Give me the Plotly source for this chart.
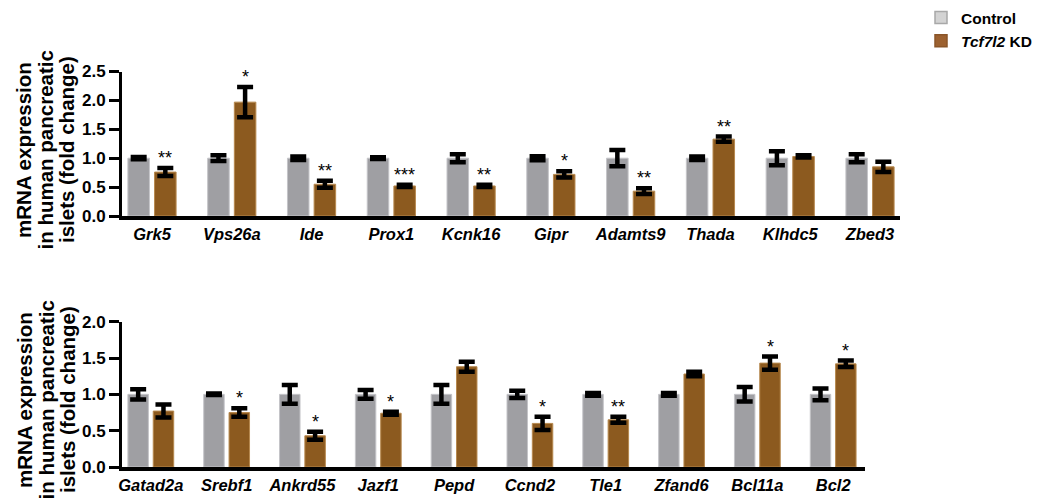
import plotly.graph_objects as go

# ---------------- data ----------------
genes_top = ["Grk5", "Vps26a", "Ide", "Prox1", "Kcnk16", "Gipr", "Adamts9", "Thada", "Klhdc5", "Zbed3"]
ctrl_top = [1.0, 1.0, 1.0, 1.0, 1.0, 1.0, 1.0, 1.0, 1.0, 1.0]
ctrl_top_err = [0.02, 0.05, 0.03, 0.015, 0.07, 0.035, 0.14, 0.03, 0.12, 0.07]
kd_top = [0.76, 1.97, 0.55, 0.52, 0.52, 0.72, 0.43, 1.33, 1.03, 0.85]
kd_top_err = [0.07, 0.26, 0.06, 0.02, 0.02, 0.055, 0.05, 0.045, 0.02, 0.09]
sig_top = ["**", "*", "**", "***", "**", "*", "**", "**", "", ""]

genes_bot = ["Gatad2a", "Srebf1", "Ankrd55", "Jazf1", "Pepd", "Ccnd2", "Tle1", "Zfand6", "Bcl11a", "Bcl2"]
ctrl_bot = [1.0, 1.0, 1.0, 1.0, 1.0, 1.0, 1.0, 1.0, 1.0, 1.0]
ctrl_bot_err = [0.07, 0.01, 0.13, 0.06, 0.13, 0.05, 0.02, 0.02, 0.10, 0.08]
kd_bot = [0.77, 0.75, 0.43, 0.74, 1.38, 0.60, 0.65, 1.28, 1.43, 1.42]
kd_bot_err = [0.09, 0.06, 0.055, 0.02, 0.07, 0.09, 0.04, 0.03, 0.09, 0.045]
sig_bot = ["", "*", "*", "*", "", "*", "**", "", "*", "*"]

ytick_top = [0.0, 0.5, 1.0, 1.5, 2.0, 2.5]
ytick_bot = [0.0, 0.5, 1.0, 1.5, 2.0]
title_lines = ["mRNA expression", "in human pancreatic", "islets (fold change)"]
legend_names = ["Control", "<i>Tcf7l2</i> KD"]

# ---------------- style ----------------
W, H = 1051, 501
OFF = 8  # page body margin
def px(x):
    return (x - OFF) / W
def py(y):
    return 1 - (y - OFF) / H

CTRL = "#9f9fa3"
CTRL_EDGE = "#c4c4c8"
KD = "#8c5a1f"
KD_EDGE = "#b7894f"
FONT = "Liberation Sans, Arial, sans-serif"
KD_OFFSET = 0.167
BAR_W = 0.27

fig = go.Figure()

def add_panel(genes, ctrl, ctrl_err, kd, kd_err, xa, ya):
    xs = list(range(len(genes)))
    eb = dict(type="data", color="black", thickness=4.5, width=8)
    fig.add_trace(go.Bar(x=xs, y=ctrl, error_y=dict(array=ctrl_err, **eb),
                         width=BAR_W, offset=-KD_OFFSET - BAR_W / 2,
                         marker=dict(color=CTRL, line=dict(color=CTRL_EDGE, width=1)),
                         xaxis=xa, yaxis=ya, showlegend=False, name="Control"))
    fig.add_trace(go.Bar(x=xs, y=kd, error_y=dict(array=kd_err, **eb),
                         width=BAR_W, offset=KD_OFFSET - BAR_W / 2,
                         marker=dict(color=KD, line=dict(color=KD_EDGE, width=1)),
                         xaxis=xa, yaxis=ya, showlegend=False, name="Tcf7l2 KD"))

add_panel(genes_top, ctrl_top, ctrl_top_err, kd_top, kd_top_err, "x", "y")
add_panel(genes_bot, ctrl_bot, ctrl_bot_err, kd_bot, kd_bot_err, "x2", "y2")

# legend-only entries
fig.add_trace(go.Bar(x=[None], y=[None], name=legend_names[0],
                     marker=dict(color="#d3d3d3", line=dict(color="#a8a8a8", width=1.5)),
                     xaxis="x", yaxis="y"))
fig.add_trace(go.Bar(x=[None], y=[None], name=legend_names[1],
                     marker=dict(color="#9c6130", line=dict(color="#8a5528", width=1.5)),
                     xaxis="x", yaxis="y"))

# significance stars
ann = []
for sigs, kd, err, xr, yr in [(sig_top, kd_top, kd_top_err, "x", "y"),
                              (sig_bot, kd_bot, kd_bot_err, "x2", "y2")]:
    for i, s in enumerate(sigs):
        if s:
            ann.append(dict(x=i + KD_OFFSET, y=kd[i] + err[i], xref=xr, yref=yr,
                            text=s, showarrow=False, yanchor="bottom", xanchor="center",
                            yshift=-2, font=dict(family=FONT, size=18, color="black")))

# y-axis titles (three rotated lines each)
for yc in [150, 400]:
    for line, xc in zip(title_lines, [24, 45.5, 67]):
        ann.append(dict(x=px(xc), y=py(yc), xref="paper", yref="paper", text=line,
                        textangle=-90, showarrow=False, xanchor="center", yanchor="middle",
                        font=dict(family=FONT, size=20.5, color="black", weight="bold")))

xax_common = dict(showline=True, linewidth=4, linecolor="black", ticks="",
                  showgrid=False, zeroline=False, tickmode="array", automargin=False,
                  tickfont=dict(family=FONT, size=16.5, color="black", weight="bold", style="italic"))
yax_common = dict(showline=True, linewidth=3, linecolor="black", ticks="outside",
                  ticklen=10, tickwidth=3, tickcolor="black", showgrid=False, zeroline=False,
                  tickformat=".1f", tickmode="array", automargin=False,
                  tickfont=dict(family=FONT, size=17, color="black", weight="bold"))

fig.update_layout(
    width=W, height=H,
    margin=dict(l=0, r=0, t=0, b=0, autoexpand=False),
    paper_bgcolor="white", plot_bgcolor="white",
    barmode="overlay",
    xaxis=dict(domain=[px(122), px(900)], range=[-0.376, 9.376],
               tickvals=list(range(len(genes_top))), ticktext=genes_top, anchor="y", **xax_common),
    yaxis=dict(domain=[py(216), py(71.5)], range=[0, 2.5],
               tickvals=ytick_top, anchor="x", **yax_common),
    xaxis2=dict(domain=[px(122), px(865)], range=[-0.38, 9.42],
                tickvals=list(range(len(genes_bot))), ticktext=genes_bot, anchor="y2", **xax_common),
    yaxis2=dict(domain=[py(467), py(321.7)], range=[0, 2.0],
                tickvals=ytick_bot, anchor="x2", **yax_common),
    legend=dict(x=px(921), y=py(1), xanchor="left", yanchor="top",
                font=dict(family=FONT, size=15.5, color="black", weight="bold"),
                bgcolor="rgba(0,0,0,0)", itemclick=False, tracegroupgap=0),
    annotations=ann,
    font=dict(family=FONT),
)

fig.write_html("out.html")
